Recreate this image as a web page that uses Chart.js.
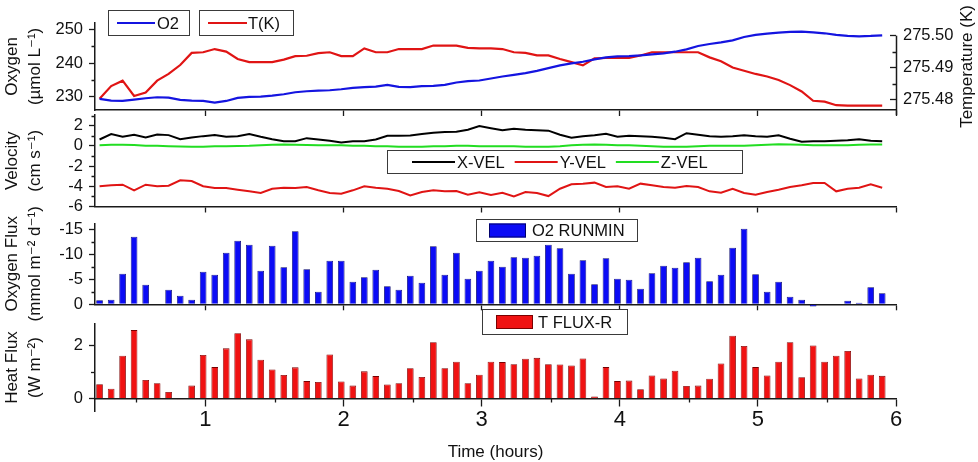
<!DOCTYPE html>
<html><head><meta charset="utf-8">
<script src="https://cdn.jsdelivr.net/npm/chart.js@4.4.1/dist/chart.umd.min.js"></script>
<style>
html,body{margin:0;padding:0;background:#fff;}
#wrap{position:relative;width:978px;height:462px;overflow:hidden;background:#fff;}
#wrap canvas{position:absolute;left:0;top:0;}
</style></head><body>
<div id="wrap">
<canvas id="c1" width="978" height="462"></canvas>
<canvas id="c2" width="978" height="462"></canvas>
<canvas id="c3" width="978" height="462"></canvas>
<canvas id="c4" width="978" height="462"></canvas>
</div>
<script>
// ---------- data ----------
const timeHours = [0.233,0.317,0.400,0.483,0.567,0.650,0.733,0.817,0.900,0.983,
 1.067,1.150,1.233,1.317,1.400,1.483,1.567,1.650,1.733,1.817,1.900,1.983,
 2.067,2.150,2.233,2.317,2.400,2.483,2.567,2.650,2.733,2.817,2.900,2.983,
 3.067,3.150,3.233,3.317,3.400,3.483,3.567,3.650,3.733,3.817,3.900,3.983,
 4.067,4.150,4.233,4.317,4.400,4.483,4.567,4.650,4.733,4.817,4.900,4.983,
 5.067,5.150,5.233,5.317,5.400,5.483,5.567,5.650,5.733,5.817,5.900];

const o2Conc = [229.3,228.8,228.7,229.1,229.5,229.8,229.7,229.0,228.8,228.7,
 228.2,228.7,229.6,229.9,230.0,230.3,230.7,231.3,231.6,231.8,
 231.9,232.2,232.6,232.8,233.0,233.5,232.9,232.8,233.1,233.2,
 233.5,234.2,234.6,234.8,235.4,236.0,236.5,237.0,237.7,238.5,
 239.3,239.9,240.4,241.1,241.7,242.0,242.1,242.3,242.6,242.9,
 243.4,244.1,245.1,245.7,246.2,246.8,247.8,248.4,248.8,249.1,
 249.3,249.4,249.2,248.9,248.4,248.1,248.0,248.1,248.3];

const tempK = [275.4802,275.4842,275.4859,275.4811,275.4822,275.4859,275.4880,275.4908,275.4946,275.4948,
 275.4958,275.4950,275.4927,275.4917,275.4917,275.4917,275.4925,275.4936,275.4937,275.4945,
 275.4948,275.4936,275.4936,275.4960,275.4948,275.4948,275.4958,275.4958,275.4958,275.4969,
 275.4969,275.4969,275.4962,275.4960,275.4960,275.4958,275.4948,275.4946,275.4938,275.4938,
 275.4927,275.4917,275.4907,275.4929,275.4930,275.4930,275.4930,275.4938,275.4948,275.4948,
 275.4948,275.4948,275.4948,275.4932,275.4920,275.4900,275.4890,275.4880,275.4872,275.4861,
 275.4845,275.4825,275.4796,275.4793,275.4782,275.4781,275.4781,275.4781,275.4781];

const xVel = [0.63,1.16,0.89,1.09,0.83,1.13,1.06,0.66,0.83,0.96,
 1.06,0.89,0.96,1.16,0.89,0.66,0.46,0.46,0.76,0.63,
 0.50,0.33,0.46,0.46,0.63,0.99,0.99,1.03,1.16,1.29,
 1.36,1.40,1.60,1.95,1.75,1.55,1.70,1.60,1.55,1.50,
 1.10,0.80,0.95,1.05,1.20,0.90,1.00,0.95,0.90,0.80,
 0.66,1.25,1.10,0.95,0.90,0.95,1.05,0.95,0.90,1.05,
 0.70,0.40,0.45,0.45,0.50,0.55,0.66,0.50,0.46];

const yVel = [-4.00,-3.90,-3.84,-4.40,-3.84,-4.00,-3.94,-3.41,-3.48,-4.00,
 -4.17,-4.17,-4.34,-4.50,-4.67,-4.24,-4.14,-4.17,-4.07,-4.40,
 -4.67,-4.73,-4.40,-4.00,-4.14,-4.24,-4.47,-4.90,-4.57,-4.40,
 -4.50,-4.47,-4.83,-4.60,-4.85,-4.64,-5.00,-4.57,-4.67,-4.97,
 -4.24,-3.81,-3.74,-3.64,-4.07,-4.00,-4.24,-3.74,-3.90,-4.07,
 -4.14,-3.97,-4.07,-4.50,-4.64,-4.24,-4.67,-4.83,-4.57,-4.34,
 -4.07,-3.90,-3.68,-3.68,-4.50,-4.24,-4.14,-3.81,-4.14];

const zVel = [0.07,0.10,0.10,0.08,0.00,0.00,-0.03,-0.07,-0.10,-0.08,
 -0.05,-0.03,-0.02,0.00,0.05,0.10,0.12,0.10,0.08,0.07,
 0.05,0.05,0.02,0.00,-0.03,-0.05,-0.08,-0.10,-0.08,-0.05,
 -0.03,0.00,0.00,-0.03,-0.05,-0.05,-0.05,-0.08,-0.10,-0.10,
 -0.05,0.05,0.10,0.12,0.10,0.07,0.05,0.00,-0.05,-0.08,
 -0.10,-0.10,-0.05,0.00,0.00,0.00,0.02,0.05,0.10,0.15,
 0.12,0.10,0.07,0.05,0.05,0.07,0.10,0.12,0.13];

const o2Flux = [-0.8,-0.9,-6.1,-13.5,-3.9,0.0,-2.9,-1.7,-0.9,-6.5,
 -5.9,-10.3,-12.7,-11.9,-6.7,-11.7,-7.4,-14.6,-7.0,-2.5,
 -8.7,-8.7,-4.5,-5.4,-6.9,-3.6,-2.9,-5.7,-4.3,-11.6,
 -5.9,-10.3,-5.1,-6.7,-8.7,-7.5,-9.4,-9.3,-9.7,-11.9,
 -11.2,-6.1,-8.8,-4.0,-9.2,-5.1,-4.9,-3.1,-6.2,-7.7,
 -7.3,-8.4,-9.3,-4.6,-5.9,-11.3,-15.1,-6.0,-2.5,-4.5,
 -1.5,-0.9,0.45,0.0,-0.1,-0.7,-0.3,-3.4,-2.2];

const heatFlux = [0.54,0.37,1.62,2.59,0.70,0.58,0.25,-0.03,0.49,1.65,
 1.19,1.90,2.47,2.24,1.47,1.10,0.89,1.18,0.66,0.63,
 1.67,0.65,0.49,1.03,0.85,0.53,0.58,1.15,0.82,2.13,
 1.15,1.39,0.58,0.90,1.39,1.38,1.30,1.51,1.54,1.30,
 1.29,1.25,1.52,0.08,1.19,0.66,0.68,0.35,0.87,0.76,
 1.05,0.48,0.49,0.75,1.33,2.38,1.99,1.19,0.87,1.39,
 2.13,0.81,2.01,1.39,1.62,1.80,0.76,0.90,0.86];

const timeTicks = [1,2,3,4,5,6];
const o2Ticks = [230,240,250];
const tempTicks = [275.48,275.49,275.50];
const velTicks = [-6,-4,-2,0,2];
const o2FluxTicks = [-15,-10,-5,0];
const heatTicks = [0,2];

// ---------- styling / helpers ----------
const FONT = "'Liberation Sans', Arial, Helvetica, 'DejaVu Sans', sans-serif";
Chart.defaults.font.family = FONT;
Chart.defaults.color = '#111';
Chart.defaults.animation = false;
const AXIS = '#1a1a1a';
const W = 978, H = 462;

function pts(ys){ return timeHours.map((x,i)=>({x:x, y:ys[i]})); }
function fixedTicks(vals){ return function(s){ s.ticks = vals.map(v=>({value:v})); }; }

const minorTickPlugin = {
  id: 'minorTicks',
  afterDraw(chart, args, opts) {
    const ctx = chart.ctx, ca = chart.chartArea;
    (opts.axes || []).forEach(a => {
      const s = chart.scales[a.id];
      if (!s || s.ticks.length < 2) return;
      const majors = s.ticks.map(t => t.value).sort((p,q)=>p-q);
      const step = majors[1] - majors[0];
      const cand = majors.map(v => v - step/2).concat([majors[majors.length-1] + step/2]);
      const lo = Math.min(s.min, s.max), hi = Math.max(s.min, s.max);
      ctx.save();
      ctx.strokeStyle = AXIS; ctx.lineWidth = 1.3;
      ctx.beginPath();
      cand.forEach(v => {
        if (v < lo - 1e-9 || v > hi + 1e-9) return;
        const p = Math.round(s.getPixelForValue(v)) + 0.5;
        if (s.isHorizontal()) {
          const y0 = (a.atY !== undefined) ? chart.scales.y.getPixelForValue(a.atY) : ca.bottom;
          ctx.moveTo(p, y0); ctx.lineTo(p, y0 + a.len);
        } else {
          const x0 = s.position === 'right' ? ca.right : ca.left;
          ctx.moveTo(x0, p); ctx.lineTo(x0 + a.dir * a.len, p);
        }
      });
      ctx.stroke();
      ctx.restore();
    });
  }
};

const boxLegendPlugin = {
  id: 'boxLegend',
  afterDraw(chart, args, opts) {
    const ctx = chart.ctx;
    (opts.boxes || []).forEach(b => {
      ctx.save();
      ctx.fillStyle = '#fff';
      ctx.fillRect(b.x, b.y, b.w, b.h);
      ctx.strokeStyle = '#3a3a3a'; ctx.lineWidth = 1;
      ctx.strokeRect(b.x + 0.5, b.y + 0.5, b.w, b.h);
      ctx.font = opts.font;
      ctx.textBaseline = 'middle'; ctx.textAlign = 'left';
      let x = b.x + b.padLeft;
      const cy = b.y + b.h / 2 + 0.5;
      b.items.forEach(i => {
        const ds = chart.data.datasets[i];
        if (b.kind === 'line') {
          ctx.strokeStyle = ds.borderColor; ctx.lineWidth = ds.borderWidth;
          ctx.beginPath(); ctx.moveTo(x, cy); ctx.lineTo(x + b.sample, cy); ctx.stroke();
        } else {
          ctx.fillStyle = ds.backgroundColor;
          ctx.fillRect(x, cy - b.sh / 2, b.sample, b.sh);
          ctx.strokeStyle = ds.borderColor; ctx.lineWidth = 1;
          ctx.strokeRect(x + 0.5, cy - b.sh / 2 + 0.5, b.sample - 1, b.sh - 1);
        }
        x += b.sample + b.gap;
        ctx.fillStyle = '#111';
        ctx.fillText(ds.label, x, cy + 1);
        x += ctx.measureText(ds.label).width + b.itemGap;
      });
      ctx.restore();
    });
  }
};

// right-hand axis line (starts at its top tick, as in the original) and rotated title
const rightAxisPlugin = {
  id: 'rightAxis',
  afterDraw(chart, args, opts) {
    const ctx = chart.ctx, ca = chart.chartArea;
    const s = chart.scales[opts.scale];
    if (s) {
      const xl = Math.round(s.left) + 0.5;
      ctx.save();
      ctx.strokeStyle = AXIS; ctx.lineWidth = 1.5;
      ctx.beginPath();
      ctx.moveTo(xl, s.getPixelForValue(opts.fromValue));
      ctx.lineTo(xl, ca.bottom + opts.extend);
      ctx.stroke();
      ctx.restore();
    }
    if (opts.text) {
      ctx.save();
      ctx.translate(opts.x, (ca.top + ca.bottom) / 2);
      ctx.rotate(-Math.PI / 2);
      ctx.font = opts.font; ctx.fillStyle = '#111';
      ctx.textAlign = 'center'; ctx.textBaseline = 'middle';
      ctx.fillText(opts.text, 0, 0);
      ctx.restore();
    }
  }
};

const LEG_FONT = "16.5px " + FONT;

function xTop() {
  return {
    type: 'linear', position: 'bottom', min: 0.2, max: 6, offset: false,
    afterBuildTicks: fixedTicks(timeTicks),
    grid: { drawOnChartArea: false, offset: false, color: AXIS, tickLength: 6, tickWidth: 1.3 },
    border: { color: AXIS, width: 1.5 },
    ticks: { display: false },
    afterFit: s => { s.height = 8; }
  };
}
function yLeft(min, max, vals, title, reverse) {
  return {
    type: 'linear', position: 'left', min: min, max: max, reverse: !!reverse,
    afterBuildTicks: fixedTicks(vals),
    grid: { drawOnChartArea: false, color: AXIS, tickLength: 6, tickWidth: 1.3 },
    border: { color: AXIS, width: 1.5 },
    ticks: { padding: 6, color: '#111', font: { size: 16.5 }, callback: v => String(v) },
    title: { display: true, text: title, color: '#111', font: { size: 17, lineHeight: 1.4 }, padding: { top: 0, bottom: 0 } },
    afterFit: s => { s.width = 95; }
  };
}
function baseOpts(padTop, padBottom, padRight) {
  return {
    responsive: false, animation: false, events: [],
    layout: { padding: { left: 0, right: padRight, top: padTop, bottom: padBottom } },
    plugins: { legend: { display: false }, tooltip: { enabled: false } }
  };
}

// ---------- panel 1: oxygen + temperature ----------
const o1 = baseOpts(13, H - 110 - 8, 0);
o1.scales = {
  x: xTop(),
  y: yLeft(226, 252, o2Ticks, ['Oxygen', '(\u00b5mol L\u207b\u00b9)']),
  y2: {
    type: 'linear', position: 'right', min: 275.4767, max: 275.504,
    afterBuildTicks: fixedTicks(tempTicks),
    grid: { drawOnChartArea: false, color: AXIS, tickLength: -6, tickWidth: 1.3 },
    border: { display: false },
    ticks: { padding: 13, color: '#111', font: { size: 16.5 }, callback: v => Number(v).toFixed(2) },
    afterFit: s => { s.width = 82; }
  }
};
o1.plugins.minorTicks = { axes: [ {id:'y', dir:-1, len:3.5}, {id:'y2', dir:-1, len:3.5} ] };
o1.plugins.boxLegend = { font: LEG_FONT, boxes: [
  { x:108, y:10, w:81, h:25, padLeft:9, sample:38, gap:2, itemGap:0, kind:'line', items:[0] },
  { x:199, y:10, w:94, h:25, padLeft:9, sample:39, gap:1, itemGap:0, kind:'line', items:[1] }
]};
o1.plugins.rightAxis = { scale: 'y2', fromValue: tempTicks[tempTicks.length - 1], extend: 5,
  text: 'Temperature (K)', x: 967, font: "17px " + FONT };
new Chart(document.getElementById('c1'), {
  type: 'line',
  data: { datasets: [
    { label: 'O2', data: pts(o2Conc), borderColor: '#1414e0', borderWidth: 2.2, pointRadius: 0, tension: 0, yAxisID: 'y' },
    { label: 'T(K)', data: pts(tempK), borderColor: '#e01414', borderWidth: 2.2, pointRadius: 0, tension: 0, yAxisID: 'y2' }
  ]},
  options: o1,
  plugins: [minorTickPlugin, boxLegendPlugin, rightAxisPlugin]
});

// ---------- panel 2: velocity ----------
const o2 = baseOpts(115, H - 206.5 - 8, 82);
o2.scales = { x: xTop(), y: yLeft(-6, 3.05, velTicks, ['Velocity', '(cm s\u207b\u00b9)']) };
o2.plugins.minorTicks = { axes: [ {id:'y', dir:-1, len:3.5} ] };
o2.plugins.boxLegend = { font: LEG_FONT, boxes: [
  { x:387, y:150, w:355, h:23, padLeft:25, sample:43, gap:2, itemGap:10, kind:'line', items:[0,1,2] }
]};
new Chart(document.getElementById('c2'), {
  type: 'line',
  data: { datasets: [
    { label: 'X-VEL', data: pts(xVel), borderColor: '#000000', borderWidth: 2, pointRadius: 0, tension: 0 },
    { label: 'Y-VEL', data: pts(yVel), borderColor: '#e01414', borderWidth: 2, pointRadius: 0, tension: 0 },
    { label: 'Z-VEL', data: pts(zVel), borderColor: '#22dd22', borderWidth: 2, pointRadius: 0, tension: 0 }
  ]},
  options: o2,
  plugins: [minorTickPlugin, boxLegendPlugin]
});

// ---------- panel 3: oxygen flux ----------
const o3 = baseOpts(223.3, H - 304.3 - 8, 82);
o3.scales = { x: xTop(), y: yLeft(-16.2, 0, o2FluxTicks, ['Oxygen Flux', '(mmol m\u207b\u00b2 d\u207b\u00b9)'], true) };
o3.plugins.minorTicks = { axes: [ {id:'y', dir:-1, len:3.5} ] };
o3.plugins.boxLegend = { font: LEG_FONT, boxes: [
  { x:476, y:219, w:161, h:22, padLeft:13, sample:37, sh:14, gap:6, itemGap:0, kind:'bar', items:[0] }
]};
new Chart(document.getElementById('c3'), {
  type: 'bar',
  data: { datasets: [
    { label: 'O2 RUNMIN', data: pts(o2Flux), backgroundColor: '#0b0bf5', borderColor: '#00006a', borderWidth: 0.8,
      categoryPercentage: 0.6, barPercentage: 0.97, clip: false }
  ]},
  options: o3,
  plugins: [minorTickPlugin, boxLegendPlugin]
});

// ---------- panel 4: heat flux ----------
const o4 = baseOpts(324, H - 411, 82);
o4.scales = {
  x: {
    type: 'linear', position: { y: 0 }, min: 0.2, max: 6, offset: false,
    afterBuildTicks: fixedTicks(timeTicks),
    grid: { drawOnChartArea: false, offset: false, color: AXIS, tickLength: 7, tickWidth: 1.3 },
    border: { color: AXIS, width: 1.5 },
    ticks: { display: true, padding: 1, color: '#111', font: { size: 22, lineHeight: 1.2 }, callback: v => String(v) },
    title: { display: true, text: 'Time (hours)', color: '#111', font: { size: 17, lineHeight: 1.2 }, padding: 0 },
    afterFit: s => { s.height = 64; }
  },
  y: yLeft(-0.47, 2.82, heatTicks, ['Heat Flux', '(W m\u207b\u00b2)'])
};
o4.plugins.minorTicks = { axes: [ {id:'y', dir:-1, len:4}, {id:'x', atY:0, len:4} ] };
o4.plugins.boxLegend = { font: LEG_FONT, boxes: [
  { x:482, y:309, w:145, h:25, padLeft:14, sample:37, sh:14, gap:5, itemGap:0, kind:'bar', items:[0] }
]};
new Chart(document.getElementById('c4'), {
  type: 'bar',
  data: { datasets: [
    { label: 'T FLUX-R', data: pts(heatFlux), backgroundColor: '#f01212', borderColor: '#7a0000', borderWidth: 0.8,
      categoryPercentage: 0.6, barPercentage: 0.97, clip: false }
  ]},
  options: o4,
  plugins: [minorTickPlugin, boxLegendPlugin]
});
</script>
</body></html>
